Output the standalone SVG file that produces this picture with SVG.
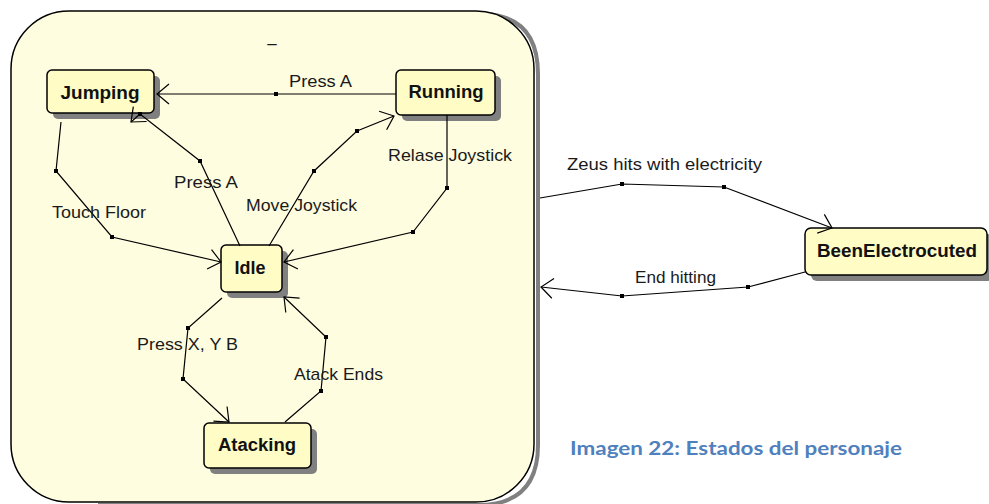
<svg xmlns="http://www.w3.org/2000/svg" width="989" height="504" viewBox="0 0 989 504">
<defs>
<marker id="arr" viewBox="-14 -11 16 22" refX="0" refY="0" markerWidth="16" markerHeight="22" markerUnits="userSpaceOnUse" orient="auto" overflow="visible">
<path d="M-12,-10 L0,0 L-12,10" fill="none" stroke="#000" stroke-width="1.2"/>
</marker>
</defs>
<style>
.bg{fill:#fff}
.outer{fill:#fffde0;stroke:#000;stroke-width:1.5}
.oshadow{fill:none;stroke:#808080;stroke-width:4}
.node{fill:#fffcc6;stroke:#000;stroke-width:1.5}
.shadow{fill:#808080}
.nt{font-family:"Liberation Sans",Arial,sans-serif;font-weight:bold;font-size:18px;fill:#111;text-anchor:middle}
.lbl{font-family:"Liberation Sans",Arial,sans-serif;font-size:17px;fill:#1a1a1a}
.edge{fill:none;stroke:#000;stroke-width:1.2;marker-end:url(#arr)}
.dot{fill:#000}
.cap{font-family:Lato,"Open Sans",sans-serif;font-weight:bold;font-size:19px;fill:#4f81bd}
</style>
<rect class="bg" x="0" y="0" width="989" height="504"/>

<g id="composite">
<path class="oshadow" d="M98,505 L478,505 Q538,505 538,445 L538,74 Q538,16 484,14"/>
<rect class="outer" x="11" y="11" width="523" height="491" rx="58" ry="58"/>
<text class="lbl" x="272" y="49" text-anchor="middle">–</text>
</g>

<g id="node-jumping">
<rect class="shadow" x="53" y="76" width="107" height="43" rx="5"/>
<rect class="node" x="47" y="70" width="107" height="43" rx="5"/>
<text class="nt" x="100" y="99" textLength="79" lengthAdjust="spacingAndGlyphs">Jumping</text>
</g>

<g id="node-running">
<rect class="shadow" x="402" y="76" width="99" height="45" rx="5"/>
<rect class="node" x="396" y="70" width="99" height="45" rx="5"/>
<text class="nt" x="446" y="98" textLength="75" lengthAdjust="spacingAndGlyphs">Running</text>
</g>

<g id="node-idle">
<rect class="shadow" x="227" y="251" width="61" height="47" rx="5"/>
<rect class="node" x="221" y="245" width="61" height="47" rx="5"/>
<text class="nt" x="250" y="274" textLength="31" lengthAdjust="spacingAndGlyphs">Idle</text>
</g>

<g id="node-atacking">
<rect class="shadow" x="210" y="429" width="107" height="45" rx="5"/>
<rect class="node" x="204" y="423" width="107" height="45" rx="5"/>
<text class="nt" x="257" y="451" textLength="78" lengthAdjust="spacingAndGlyphs">Atacking</text>
</g>

<g id="node-electrocuted">
<rect class="shadow" x="811" y="234" width="182" height="47" rx="6"/>
<rect class="node" x="805" y="228" width="182" height="47" rx="6"/>
<text class="nt" x="897" y="257" textLength="160" lengthAdjust="spacingAndGlyphs">BeenElectrocuted</text>
</g>

<g id="connectors">
<path class="edge" d="M396,94 L276,94 L157,94"/>
<path class="edge" d="M240,246 L200,161 L140,114 L131,122"/>
<path class="edge" d="M61,122 L56,171 L112,237 L221,262"/>
<path class="edge" d="M269,246 L314,171 L357,131 L394,116"/>
<path class="edge" d="M447,115 L447,188 L413,232 L284,262"/>
<path class="edge" d="M222,298 L188,328 L183,379 L229,422"/>
<path class="edge" d="M285,422 L321,391 L326,337 L284,297"/>
<path class="edge" d="M540,198 L622,184 L724,187 L832,228"/>
<path class="edge" d="M805,272 L748,287 L622,296 L541,287"/>
<g class="dot">
<rect x="274" y="92" width="4" height="4"/>
<rect x="198" y="159" width="4" height="4"/>
<rect x="138" y="112" width="4" height="4"/>
<rect x="54" y="169" width="4" height="4"/>
<rect x="110" y="235" width="4" height="4"/>
<rect x="312" y="169" width="4" height="4"/>
<rect x="355" y="129" width="4" height="4"/>
<rect x="445" y="186" width="4" height="4"/>
<rect x="411" y="230" width="4" height="4"/>
<rect x="186" y="326" width="4" height="4"/>
<rect x="181" y="377" width="4" height="4"/>
<rect x="319" y="389" width="4" height="4"/>
<rect x="324" y="335" width="4" height="4"/>
<rect x="620" y="182" width="4" height="4"/>
<rect x="722" y="185" width="4" height="4"/>
<rect x="746" y="285" width="4" height="4"/>
<rect x="620" y="294" width="4" height="4"/>
</g>
<text class="lbl" x="289" y="87" textLength="63" lengthAdjust="spacingAndGlyphs">Press A</text>
<text class="lbl" x="174" y="188" textLength="64" lengthAdjust="spacingAndGlyphs">Press A</text>
<text class="lbl" x="52" y="218" textLength="94" lengthAdjust="spacingAndGlyphs">Touch Floor</text>
<text class="lbl" x="246" y="211" textLength="111" lengthAdjust="spacingAndGlyphs">Move Joystick</text>
<text class="lbl" x="388" y="161" textLength="124" lengthAdjust="spacingAndGlyphs">Relase Joystick</text>
<text class="lbl" x="137" y="350" textLength="101" lengthAdjust="spacingAndGlyphs">Press X, Y B</text>
<text class="lbl" x="294" y="380" textLength="89" lengthAdjust="spacingAndGlyphs">Atack Ends</text>
<text class="lbl" x="567" y="170" textLength="195" lengthAdjust="spacingAndGlyphs">Zeus hits with electricity</text>
<text class="lbl" x="635" y="283" textLength="81" lengthAdjust="spacingAndGlyphs">End hitting</text>
</g>

<text class="cap" x="570" y="455" textLength="332" lengthAdjust="spacingAndGlyphs">Imagen 22: Estados del personaje</text>
</svg>
